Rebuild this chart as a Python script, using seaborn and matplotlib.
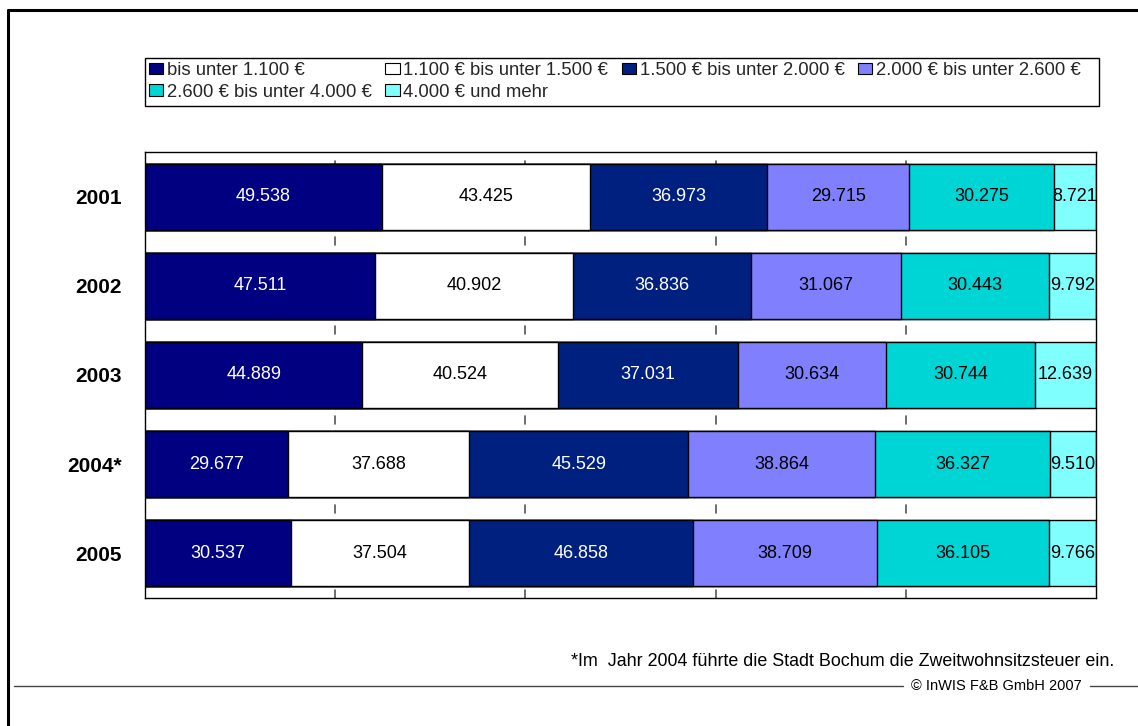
import numpy as np
import pandas as pd
import matplotlib
matplotlib.use("Agg")
import matplotlib.pyplot as plt
from matplotlib.patches import Patch, Rectangle
from matplotlib.lines import Line2D
import seaborn as sns

# Households by net income class (absolute counts per year)
years = ["2001", "2002", "2003", "2004*", "2005"]
income_classes = [
    "bis unter 1.100 €",
    "1.100 € bis unter 1.500 €",
    "1.500 € bis unter 2.000 €",
    "2.000 € bis unter 2.600 €",
    "2.600 € bis unter 4.000 €",
    "4.000 € und mehr",
]
under_1100 = [49538, 47511, 44889, 29677, 30537]
from_1100_to_1500 = [43425, 40902, 40524, 37688, 37504]
from_1500_to_2000 = [36973, 36836, 37031, 45529, 46858]
from_2000_to_2600 = [29715, 31067, 30634, 38864, 38709]
from_2600_to_4000 = [30275, 30443, 30744, 36327, 36105]
over_4000 = [8721, 9792, 12639, 9510, 9766]

colors = ["#000080", "#FFFFFF", "#00207F", "#8080FF", "#00D5D5", "#80FFFF"]
text_colors = ["white", "black", "white", "black", "black", "black"]

sns.set_theme(style="white")
plt.rcParams["font.family"] = ["Liberation Sans", "DejaVu Sans"]

series = np.array([under_1100, from_1100_to_1500, from_1500_to_2000,
                   from_2000_to_2600, from_2600_to_4000, over_4000], dtype=float)
totals = series.sum(axis=0)
shares = series / totals
cum = np.cumsum(shares, axis=0)

fig = plt.figure(figsize=(11.38, 7.26), dpi=100)
W, H = 1138, 726
ax = fig.add_axes([145 / W, 1 - 598 / H, 951 / W, 446 / H])

bar_h = 0.74
# Stacked segments: draw cumulative totals from the outermost class inward
for i in reversed(range(len(income_classes))):
    df = pd.DataFrame({"year": years, "value": cum[i]})
    sns.barplot(data=df, x="value", y="year", orient="h", color=colors[i],
                saturation=1, width=bar_h, edgecolor="black", linewidth=1.0,
                ax=ax, zorder=2)

# Value labels inside each segment
for i in range(len(income_classes)):
    for j in range(len(years)):
        left = cum[i, j] - shares[i, j]
        centre = left + shares[i, j] / 2
        label = f"{series[i, j] / 1000:.3f}"
        ax.text(centre, j, label, ha="center", va="center", fontsize=13,
                color=text_colors[i], zorder=5)

ax.set_xlim(0, 1)
ax.set_ylim(len(years) - 0.5, -0.5)
ax.set_xlabel("")
ax.set_ylabel("")
ax.set_xticks([])
ax.tick_params(axis="y", length=0, pad=17)
ax.set_yticks(range(len(years)))
ax.set_yticklabels(years, fontsize=15, fontweight="bold", color="black")
for spine in ax.spines.values():
    spine.set_visible(True)
    spine.set_color("black")
    spine.set_linewidth(1.0)

# Short gridline ticks in the gaps between bars
for xv in [0.2, 0.4, 0.6, 0.8]:
    for j in range(len(years) - 1):
        gc = j + 0.5
        ax.plot([xv, xv], [gc - 0.045, gc + 0.045], color="#555555", lw=1.2, zorder=1)
    ax.plot([xv, xv], [len(years) - 0.5, len(years) - 0.5 - 0.09], color="#555555", lw=1.2, zorder=1)
    ax.plot([xv, xv], [-0.5 + (1 - bar_h) / 2, -0.5 + (1 - bar_h) / 2 - 0.03], color="#555555", lw=1.2, zorder=1)

# Legend above the plot, with its own box
handles = [Patch(facecolor=c, edgecolor="black", linewidth=0.8) for c in colors]
order = [0, 4, 1, 5, 2, 3]
leg = fig.legend([handles[k] for k in order], [income_classes[k] for k in order],
                 ncol=4, loc="upper left",
                 bbox_to_anchor=(145 / W, 1 - 58 / H),
                 fontsize=13.3, frameon=False, borderaxespad=0,
                 handlelength=0.78, handleheight=0.58, handletextpad=0.2,
                 columnspacing=0.72, labelspacing=0.25, borderpad=0.22)
fig.add_artist(Rectangle((145 / W, 1 - 106 / H), 954 / W, 48 / H,
                         transform=fig.transFigure, fill=False,
                         edgecolor="black", linewidth=1.0))

# Footnote
fig.text(1114 / W, 1 - 662 / H,
         "*Im  Jahr 2004 führte die Stadt Bochum die Zweitwohnsitzsteuer ein.",
         ha="right", va="center", fontsize=12.9, color="black")

# Copyright line
fig.add_artist(Line2D([14 / W, 903 / W], [1 - 686 / H, 1 - 686 / H], color="#444444", lw=1.0))
fig.add_artist(Line2D([1090 / W, 1.0], [1 - 686 / H, 1 - 686 / H], color="#444444", lw=1.0))
fig.text(996 / W, 1 - 686 / H, "© InWIS F&B GmbH 2007", ha="center", va="center",
         fontsize=10.5, color="black")

# Outer frame at the top and left edge
fig.add_artist(Line2D([8 / W, 1.0], [1 - 10 / H, 1 - 10 / H], color="black", lw=2.2))
fig.add_artist(Line2D([8 / W, 8 / W], [1 - 10 / H, 0.0], color="black", lw=2.2))

fig.savefig("out.png", dpi=100, facecolor="white")
